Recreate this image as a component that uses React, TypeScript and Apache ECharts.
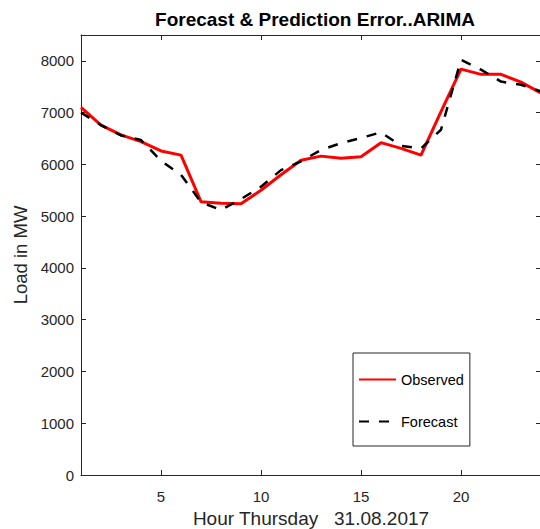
import React, { useEffect, useRef } from "react";
import * as echarts from "echarts";

const hours = [1, 2, 3, 4, 5, 6, 7, 8, 9, 10, 11, 12, 13, 14, 15, 16, 17, 18, 19, 20, 21, 22, 23, 24];
const observed = [7100, 6760, 6570, 6440, 6260, 6180, 5280, 5250, 5240, 5500, 5800, 6080, 6160, 6120, 6150, 6420, 6310, 6180, 7020, 7840, 7740, 7740, 7590, 7380];
const forecast = [7000, 6760, 6560, 6470, 6070, 5800, 5270, 5120, 5330, 5570, 5890, 6060, 6280, 6410, 6510, 6620, 6360, 6310, 6670, 8020, 7830, 7600, 7540, 7410];
const xTicks = [5, 10, 15, 20];
const yTicks = [0, 1000, 2000, 3000, 4000, 5000, 6000, 7000, 8000];

const INK = "#262626";
const FONT = "'Liberation Sans', Arial, Helvetica, sans-serif";

export default function App() {
  const ref = useRef<HTMLDivElement>(null);
  useEffect(() => {
    if (!ref.current) return;
    const chart = echarts.init(ref.current, undefined, { renderer: "svg" });
    const tick = { show: true, inside: true, length: 5, lineStyle: { color: INK, width: 1 } };
    const line = { show: true, onZero: false, lineStyle: { color: INK, width: 1 } };
    chart.setOption({
      animation: false,
      backgroundColor: "#ffffff",
      textStyle: { fontFamily: FONT },
      title: {
        text: "Forecast & Prediction Error..ARIMA",
        left: 310,
        top: 5,
        textAlign: "center",
        textStyle: { fontFamily: FONT, fontSize: 19, fontWeight: "bold", color: "#000000" },
      },
      grid: { left: 81, top: 35, width: 460, height: 440, containLabel: false, outerBoundsMode: "none" },
      legend: {
        orient: "vertical",
        left: 353,
        top: 353,
        padding: [19, 6, 17, 5],
        itemWidth: 37,
        itemHeight: 14,
        itemGap: 27,
        borderColor: INK,
        borderWidth: 1,
        backgroundColor: "#ffffff",
        itemStyle: { color: "transparent", borderWidth: 0, opacity: 0 },
        textStyle: { fontFamily: FONT, fontSize: 14.5, color: "#000000", lineHeight: 14, padding: [0, 0, 0, 0] },
        data: ["Observed", "Forecast"],
      },
      xAxis: [
        {
          type: "value",
          min: 1,
          max: 24,
          position: "bottom",
          name: "Hour Thursday   31.08.2017",
          nameLocation: "middle",
          nameGap: 33,
          nameTextStyle: { fontFamily: FONT, fontSize: 19, color: INK, lineHeight: 20 },
          axisLine: line,
          axisTick: { ...tick, customValues: xTicks },
          axisLabel: { show: true, customValues: xTicks, margin: 14, fontSize: 15, color: INK, fontFamily: FONT },
          splitLine: { show: false },
        },
        {
          type: "value",
          min: 1,
          max: 24,
          position: "top",
          axisLine: line,
          axisTick: { ...tick, customValues: xTicks },
          axisLabel: { show: false },
          splitLine: { show: false },
        },
      ],
      yAxis: [
        {
          type: "value",
          min: 0,
          max: 8500,
          position: "left",
          name: "Load in MW",
          nameLocation: "middle",
          nameGap: 46,
          nameTextStyle: { fontFamily: FONT, fontSize: 18.5, color: INK },
          axisLine: line,
          axisTick: { ...tick, customValues: yTicks },
          axisLabel: {
            show: true,
            customValues: yTicks,
            margin: 7,
            fontSize: 15,
            color: INK,
            fontFamily: FONT,
            formatter: (v: number) => String(v),
          },
          splitLine: { show: false },
        },
        {
          type: "value",
          min: 0,
          max: 8500,
          position: "right",
          axisLine: line,
          axisTick: { ...tick, customValues: yTicks },
          axisLabel: { show: false },
          splitLine: { show: false },
        },
      ],
      series: [
        {
          name: "Observed",
          type: "line",
          data: hours.map((h, i) => [h, observed[i]]),
          symbol: "none",
          lineStyle: { color: "#ff0000", width: 3 },
          itemStyle: { color: "#ff0000" },
          z: 3,
        },
        {
          name: "Forecast",
          type: "line",
          data: hours.map((h, i) => [h, forecast[i]]),
          symbol: "none",
          lineStyle: { color: "#000000", width: 2.5, type: [10, 10] },
          itemStyle: { color: "#000000" },
          z: 4,
        },
      ],
    });
    return () => chart.dispose();
  }, []);
  return (
    <div
      ref={ref}
      style={{ position: "fixed", left: 0, top: 0, width: 540, height: 529, background: "#fff" }}
    />
  );
}
